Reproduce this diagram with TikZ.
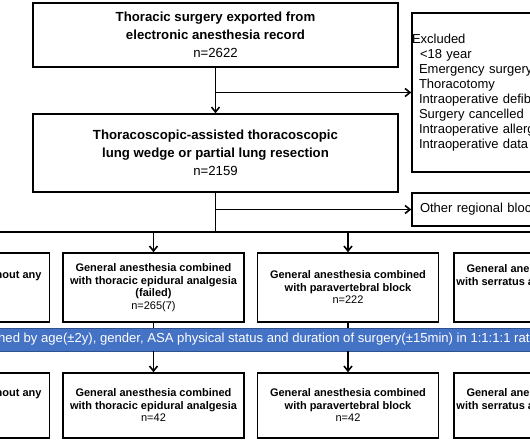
\documentclass[tikz,border=0pt]{standalone}
\usepackage{fontspec}
\setmainfont{Liberation Sans}
\usetikzlibrary{arrows.meta,positioning}
\definecolor{matchblue}{RGB}{68,114,196}
\definecolor{matchedge}{RGB}{47,82,143}

\begin{document}
\begin{tikzpicture}[x=1pt, y=-1pt, >={Straight Barb[length=5pt,width=8pt]},
  box/.style={draw, line width=1.4pt, inner sep=0pt, align=center},
  bigbox/.style={box, minimum width=365pt, font=\bfseries\fontsize{13.2}{18}\selectfont},
  armbox/.style={box, minimum width=181pt, font=\bfseries\fontsize{11}{12.5}\selectfont},
  sidebox/.style={box, align=left, font=\fontsize{13}{15}\selectfont},
  flow/.style={line width=1.6pt}]

\useasboundingbox (0,0) rectangle (530,442);
\clip (0,0) rectangle (530,442);

% records and exclusions
\node[bigbox, minimum height=64pt] (export) at (215.5,35)
  {Thoracic surgery exported from\\electronic anesthesia record\\{\mdseries n=2622}};
\node[bigbox, minimum height=78pt] (vats) at (215.5,153)
  {Thoracoscopic-assisted thoracoscopic\\lung wedge or partial lung resection\\{\mdseries n=2159}};
\node[sidebox, text width=200pt, minimum height=159pt] (excl) at (512,92.5)
  {Excluded\\
   \hspace*{8pt}<18 year\\
   \hspace*{7pt}Emergency surgery\\
   \hspace*{7pt}Thoracotomy\\
   \hspace*{7pt}Intraoperative defibrillation\\
   \hspace*{7pt}Surgery cancelled\\
   \hspace*{7pt}Intraoperative allergy\\
   \hspace*{7pt}Intraoperative data missing};
\node[sidebox, text width=184pt, inner xsep=8pt, minimum height=33pt] (other) at (512,209.5)
  {Other regional block};

% groups before matching
\node[armbox, minimum height=69pt] (gaNone) at (-41,287.5)
  {General anesthesia without any\\\phantom{n}\\\phantom{n}};
\node[armbox, minimum height=69pt] (gaTea) at (153.5,287.5)
  {General anesthesia combined\\with thoracic epidural analgesia\\(failed)\\{\mdseries n=265(7)}};
\node[armbox, minimum height=69pt] (gaPvb) at (348,287.5)
  {General anesthesia combined\\with paravertebral block\\{\mdseries n=222}};
\node[armbox, minimum height=69pt] (gaSap) at (544.5,287.5)
  {General anesthesia combined\\with serratus anterior plane block\\\phantom{(f)}\\\phantom{n}};

% matching band
\node[draw=matchedge, fill=matchblue, line width=0.8pt, minimum width=570pt,
  minimum height=23pt, inner sep=0pt] (match) at (265,339.5) {};
\node[anchor=west, text=white, inner sep=0pt, font=\fontsize{13.1}{15}\selectfont] (matchtext) at (-2,339.5)
  {\llap{Matc}hed by age(±2y), gender, ASA physical status and duration of surgery(±15min) in 1:1:1:1 ratio};

% groups after matching
\node[armbox, minimum height=65pt] (mNone) at (-41,405.5)
  {General anesthesia without any\\\phantom{n}\\\phantom{n}};
\node[armbox, minimum height=65pt] (mTea) at (153.5,405.5)
  {General anesthesia combined\\with thoracic epidural analgesia\\{\mdseries n=42}};
\node[armbox, minimum height=65pt] (mPvb) at (348,405.5)
  {General anesthesia combined\\with paravertebral block\\{\mdseries n=42}};
\node[armbox, minimum height=65pt] (mSap) at (544.5,405.5)
  {General anesthesia combined\\with serratus anterior plane block\\\phantom{n}};

% connectors
\coordinate (cut1) at (export.south |- excl.west);
\coordinate (cut2) at (vats.south |- other.west);
\coordinate (fork) at (vats.south |- 0,232);

\draw[flow,->] (export) -- (vats);
\draw[flow,->] (cut1) -- (excl);
\draw[flow] (vats) -- (fork);
\draw[flow,->] (cut2) -- (other);
\draw[flow] (fork -| gaNone) -- (fork -| gaSap);

\foreach \arm/\kept in {gaNone/mNone, gaTea/mTea, gaPvb/mPvb, gaSap/mSap} {
  \draw[flow,->] (fork -| \arm) -- (\arm);
  \draw[flow] (\arm) -- (\arm |- match.north);
  \draw[flow,->] (\kept |- match.south) -- (\kept);
}

\end{tikzpicture}
\end{document}
